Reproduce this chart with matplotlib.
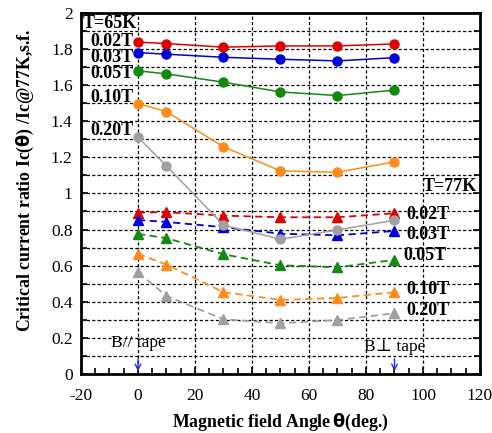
import numpy as np
import matplotlib.pyplot as plt
from matplotlib.ticker import MultipleLocator, FormatStrFormatter

plt.rcParams['font.family'] = ['Liberation Serif', 'DejaVu Serif']
plt.rcParams['mathtext.fontset'] = 'custom'
plt.rcParams['axes.unicode_minus'] = False

# field angle (deg)
angle = [0, 10, 30, 50, 70, 90]
fields = ['0.02T', '0.03T', '0.05T', '0.10T', '0.20T']
colors = ['#e00000', '#0000d8', '#108a10', '#ff8c1a', '#a0a0a0']

# Ic(theta)/Ic(77K, s.f.) at 65 K
ic_65k = [
    [1.838, 1.830, 1.810, 1.817, 1.817, 1.828],
    [1.780, 1.771, 1.754, 1.743, 1.734, 1.752],
    [1.679, 1.662, 1.616, 1.562, 1.542, 1.572],
    [1.498, 1.453, 1.258, 1.125, 1.117, 1.175],
    [1.311, 1.152, 0.825, 0.746, 0.798, 0.851],
]
# Ic(theta)/Ic(77K, s.f.) at 77 K
ic_77k = [
    [0.894, 0.896, 0.877, 0.868, 0.868, 0.890],
    [0.853, 0.842, 0.813, 0.777, 0.768, 0.792],
    [0.776, 0.752, 0.663, 0.602, 0.591, 0.632],
    [0.665, 0.606, 0.453, 0.410, 0.421, 0.453],
    [0.563, 0.432, 0.303, 0.281, 0.299, 0.336],
]

fig = plt.figure(figsize=(4.92, 4.33), dpi=100)
ax = fig.add_axes([0.1646, 0.1363, 0.811, 0.834])

for k in range(len(fields)):
    ax.plot(angle, ic_65k[k], '-o', color=colors[k], lw=1.1, ms=6.5,
            mec=colors[k], zorder=3)
    ax.plot(angle, ic_77k[k], '--^', color=colors[k], lw=1.3, ms=7,
            mec=colors[k], dashes=(4, 2.5), zorder=3)

ax.set_xlim(-20, 120)
ax.set_ylim(0, 2)
ax.xaxis.set_major_locator(MultipleLocator(20))
ax.xaxis.set_minor_locator(MultipleLocator(5))
ax.yaxis.set_major_locator(MultipleLocator(0.2))
ax.yaxis.set_minor_locator(MultipleLocator(0.1))
ax.yaxis.set_major_formatter(FormatStrFormatter('%g'))
ax.tick_params(which='both', direction='in', right=True, top=False,
               labelsize=12.5, width=1.2)
ax.tick_params(which='major', length=5, pad=6)
ax.tick_params(which='minor', length=4)
ax.tick_params(axis='x', which='major', pad=10)
ax.grid(True, which='both', axis='y', color='black', lw=0.9,
        linestyle=(0, (2.5, 1.8)))
ax.grid(True, which='major', axis='x', color='black', lw=0.9,
        linestyle=(0, (2.5, 1.8)))
for s in ax.spines.values():
    s.set_linewidth(2)

ax.set_xlabel(r'Magnetic field Angle$\,\mathbf{\theta}$(deg.)',
              fontsize=12.8, fontweight='bold', labelpad=6)
ax.set_ylabel(r'Critical current ratio Ic($\mathbf{\theta}$) /Ic@77K,s.f.',
              fontsize=12.8, fontweight='bold')
ax.yaxis.set_label_coords(-0.112, 0.537)

lab = dict(fontsize=13, fontweight='bold', va='center')
ax.text(-19.5, 1.94, 'T=65K', ha='left', **lab)
ax.text(-1.5, 1.84, '0.02T', ha='right', **lab)
ax.text(-1.5, 1.752, '0.03T', ha='right', **lab)
ax.text(-1.5, 1.664, '0.05T', ha='right', **lab)
ax.text(-1.5, 1.53, '0.10T', ha='right', **lab)
ax.text(-1.5, 1.35, '0.20T', ha='right', **lab)

ax.text(119, 1.04, 'T=77K', ha='right', **lab)
ax.text(94, 0.885, '0.02T', ha='left', **lab)
ax.text(94, 0.775, '0.03T', ha='left', **lab)
ax.text(93, 0.655, '0.05T', ha='left', **lab)
ax.text(94, 0.47, '0.10T', ha='left', **lab)
ax.text(94, 0.35, '0.20T', ha='left', **lab)

ax.text(0, 0.17, 'B// tape', ha='center', va='center', fontsize=12.5)
ax.text(90, 0.15, 'B\u22a5 tape', ha='center', va='center', fontsize=12.5)
for xa in [0, 90]:
    ax.annotate('', xy=(xa, 0.0), xytext=(xa, 0.1),
                arrowprops=dict(arrowstyle='->', color='#2030e0', lw=1.0))

fig.savefig('out.png', dpi=100)
